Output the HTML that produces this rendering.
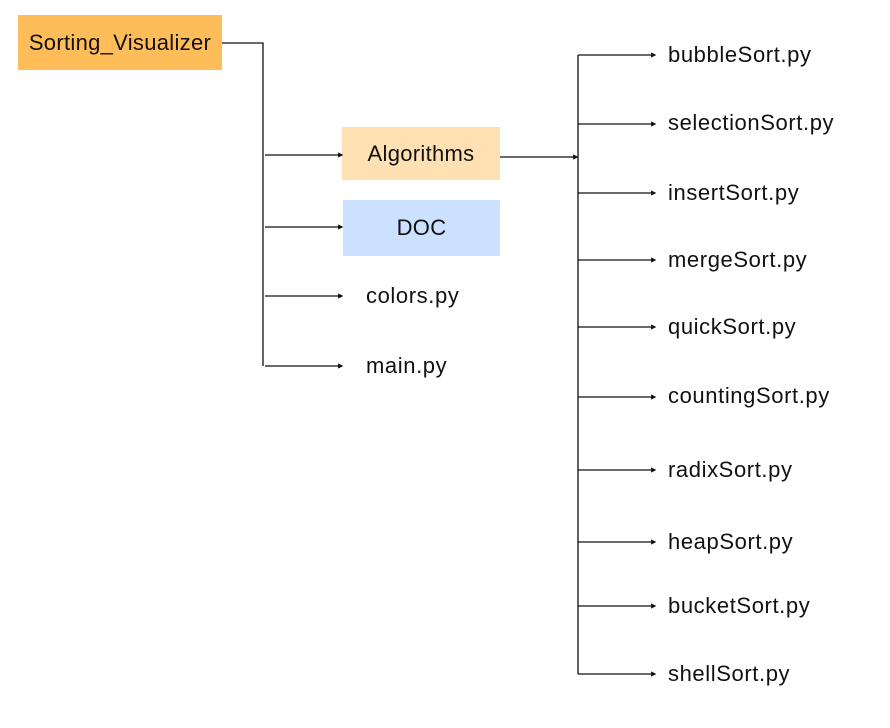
<!DOCTYPE html>
<html><head><meta charset="utf-8"><style>
body{margin:0;background:#fff;}
.c{position:relative;width:890px;height:728px;overflow:hidden;font-family:"Liberation Sans",sans-serif;color:#111;}
.t{position:absolute;font-size:22px;line-height:26px;white-space:nowrap;letter-spacing:0.6px;}
.b{position:absolute;display:flex;align-items:center;justify-content:center;font-size:22px;letter-spacing:0.3px;}
</style></head><body><div class="c">
<div class="b" style="left:18px;top:15px;width:204px;height:55px;background:#FFBD59;">Sorting_Visualizer</div>
<div class="b" style="left:342px;top:127px;width:158px;height:53px;background:#FFE0B2;">Algorithms</div>
<div class="b" style="left:343px;top:200px;width:157px;height:56px;background:#CCE0FF;">DOC</div>
<svg width="890" height="728" style="position:absolute;left:0;top:0" fill="none" stroke="#111" stroke-width="1.3">
<defs><marker id="a" markerWidth="4" markerHeight="4" refX="3" refY="2" orient="auto"><path d="M0,0L4,2L0,4z" fill="#111" stroke="none"/></marker></defs>
<path d="M222 43H263V366"/>
<g marker-end="url(#a)">
<path d="M265 155H342"/><path d="M265 227H342"/><path d="M265 296H342"/><path d="M265 366H342"/>
<path d="M500 157H577"/>
<path d="M578 55H655"/><path d="M578 124H655"/><path d="M578 193H655"/><path d="M578 260H655"/><path d="M578 327H655"/><path d="M578 397H655"/><path d="M578 470H655"/><path d="M578 542H655"/><path d="M578 606H655"/><path d="M578 674H655"/>
</g>
<path d="M578 55V674"/>
</svg>
<div class="t" style="left:366px;top:283px">colors.py</div>
<div class="t" style="left:366px;top:353px">main.py</div>
<div class="t" style="left:668px;top:42px">bubbleSort.py</div>
<div class="t" style="left:668px;top:110px">selectionSort.py</div>
<div class="t" style="left:668px;top:180px">insertSort.py</div>
<div class="t" style="left:668px;top:247px">mergeSort.py</div>
<div class="t" style="left:668px;top:314px">quickSort.py</div>
<div class="t" style="left:668px;top:383px">countingSort.py</div>
<div class="t" style="left:668px;top:457px">radixSort.py</div>
<div class="t" style="left:668px;top:529px">heapSort.py</div>
<div class="t" style="left:668px;top:593px">bucketSort.py</div>
<div class="t" style="left:668px;top:661px">shellSort.py</div>
</div></body></html>
